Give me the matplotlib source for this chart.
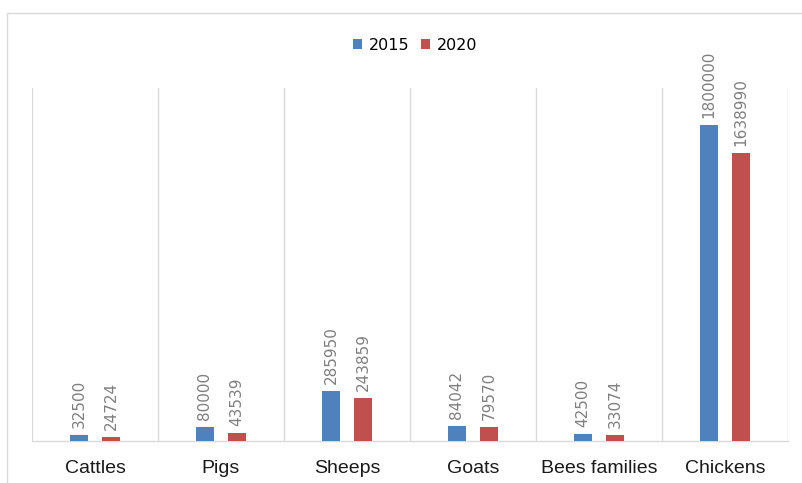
import matplotlib
matplotlib.use("Agg")
import matplotlib.pyplot as plt
import numpy as np
from matplotlib.patches import Rectangle

categories = ["Cattles", "Pigs", "Sheeps", "Goats", "Bees families", "Chickens"]
values_2015 = [32500, 80000, 285950, 84042, 42500, 1800000]
values_2020 = [24724, 43539, 243859, 79570, 33074, 1638990]
series_names = ["2015", "2020"]

W, H = 803, 483
fig = plt.figure(figsize=(W / 100, H / 100), dpi=100)
fig.patch.set_facecolor("white")

# outer frame
fig.patches.append(Rectangle((7 / W, -0.05), 1.2, (H - 13) / H + 0.05,
                             transform=fig.transFigure, fill=False,
                             edgecolor="#d9d9d9", linewidth=1.0))

ax = fig.add_axes([32 / W, (H - 441) / H, (788 - 32) / W, (441 - 88) / H])

x = np.arange(len(categories))
bw = 0.14
off = 0.127
c2015 = "#4F81BD"
c2020 = "#C0504D"
b1 = ax.bar(x - off, values_2015, bw, color=c2015, label=series_names[0], zorder=3)
b2 = ax.bar(x + off, values_2020, bw, color=c2020, label=series_names[1], zorder=3)

for bars, vals in ((b1, values_2015), (b2, values_2020)):
    for rect, v in zip(bars, vals):
        ax.annotate(f"{v}", (rect.get_x() + rect.get_width() / 2, rect.get_height()),
                    xytext=(0, 5), textcoords="offset points", rotation=90,
                    ha="center", va="bottom", fontsize=11, color="#7f7f7f",
                    family="DejaVu Sans")

ax.set_xlim(-0.5, len(categories) - 0.5)
ax.set_ylim(0, 2010000)
ax.set_xticks(x)
ax.set_xticklabels(categories, fontsize=14, family="Liberation Sans", color="#1a1a1a")
ax.set_yticks([])
ax.tick_params(axis="x", length=0, pad=14)
for b in np.arange(-0.5, len(categories), 1.0):
    ax.axvline(b, color="#d9d9d9", linewidth=1.0, zorder=1)
for s in ["top", "left", "right"]:
    ax.spines[s].set_visible(False)
ax.spines["bottom"].set_color("#d9d9d9")
ax.spines["bottom"].set_linewidth(1.0)

fig.legend(handles=[b1, b2], labels=series_names, loc="center",
           bbox_to_anchor=(415 / W, (H - 45) / H), ncol=2, frameon=False,
           handlelength=0.6, handleheight=0.6, handletextpad=0.4,
           columnspacing=0.7, prop={"family": "Liberation Sans Narrow", "size": 11.5})

fig.savefig("out.png", dpi=100)
